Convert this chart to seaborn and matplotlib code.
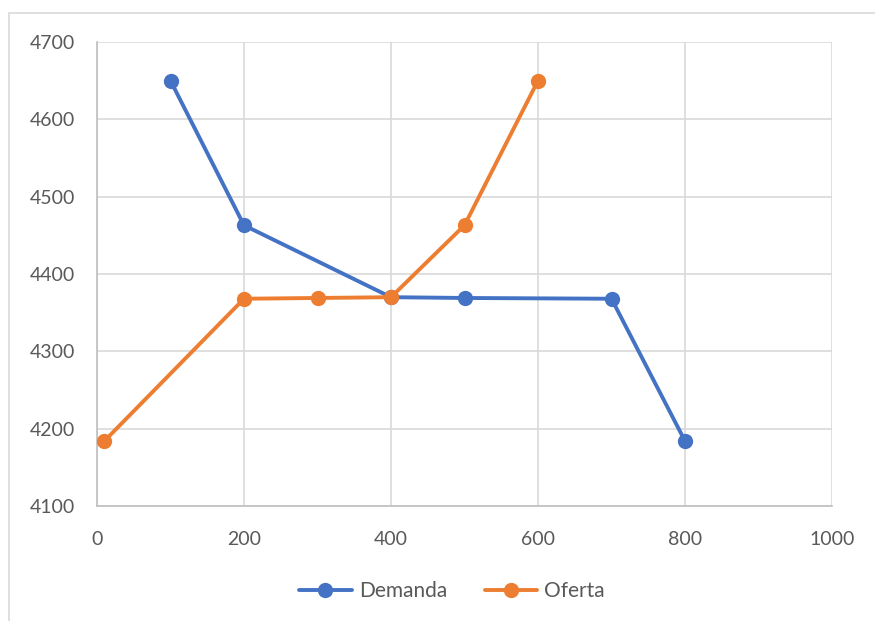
import matplotlib
matplotlib.use("Agg")
import matplotlib.pyplot as plt
from matplotlib.patches import Rectangle
from matplotlib.lines import Line2D
import seaborn as sns
import pandas as pd

# Demand and supply schedules (quantity, price)
demanda_x = [100, 200, 400, 500, 700, 800]
demanda_y = [4650, 4463, 4370, 4369, 4368, 4184]
oferta_x = [10, 200, 300, 400, 500, 600]
oferta_y = [4184, 4368, 4369, 4370, 4463, 4650]
series_names = ["Demanda", "Oferta"]
x_ticks = [0, 200, 400, 600, 800, 1000]
y_ticks = [4100, 4200, 4300, 4400, 4500, 4600, 4700]

df = pd.concat([
    pd.DataFrame({"x": demanda_x, "y": demanda_y, "serie": series_names[0]}),
    pd.DataFrame({"x": oferta_x, "y": oferta_y, "serie": series_names[1]}),
], ignore_index=True)

sns.set_style("white")
plt.rcParams["font.family"] = ["Lato", "DejaVu Sans"]

W, H = 875, 621
fig = plt.figure(figsize=(W / 100, H / 100), dpi=100)
ax = fig.add_axes([97 / W, 1 - 506 / H, (832 - 97) / W, (506 - 42) / H])

palette = {"Demanda": "#4472C4", "Oferta": "#ED7D31"}
sns.lineplot(data=df, x="x", y="y", hue="serie", palette=palette, sort=False,
             marker="o", markersize=11, markeredgewidth=0, linewidth=2.8,
             ax=ax, legend=False, zorder=3)

ax.set_xlim(0, 1000)
ax.set_ylim(4100, 4700)
ax.set_xticks(x_ticks)
ax.set_yticks(y_ticks)
ax.set_xlabel("")
ax.set_ylabel("")
ax.grid(True, color="#D9D9D9", linewidth=1.2)
ax.set_axisbelow(True)
for side in ["top", "right"]:
    ax.spines[side].set_visible(False)
for side in ["left", "bottom"]:
    ax.spines[side].set_color("#BFBFBF")
    ax.spines[side].set_linewidth(1.2)
ax.tick_params(axis="both", length=0, labelsize=14, labelcolor="#595959")
ax.tick_params(axis="y", pad=16)
ax.tick_params(axis="x", pad=18)

# Legend below the plot area
handles = [Line2D([], [], color=palette[n], marker="o", markersize=11,
                  markeredgewidth=0, linewidth=2.8) for n in series_names]
fig.legend(handles, series_names, loc="center", bbox_to_anchor=(452 / W, 1 - 591 / H),
           ncol=2, frameon=False, fontsize=15, labelcolor="#595959",
           handlelength=2.5, columnspacing=1.8, handletextpad=0.35)

# Chart area border
fig.patches.append(Rectangle((9 / W, -0.1), 1.2, 1 - 13 / H + 0.1,
                             transform=fig.transFigure, fill=False,
                             edgecolor="#D9D9D9", linewidth=1.2))

fig.savefig("out.png", dpi=100)
